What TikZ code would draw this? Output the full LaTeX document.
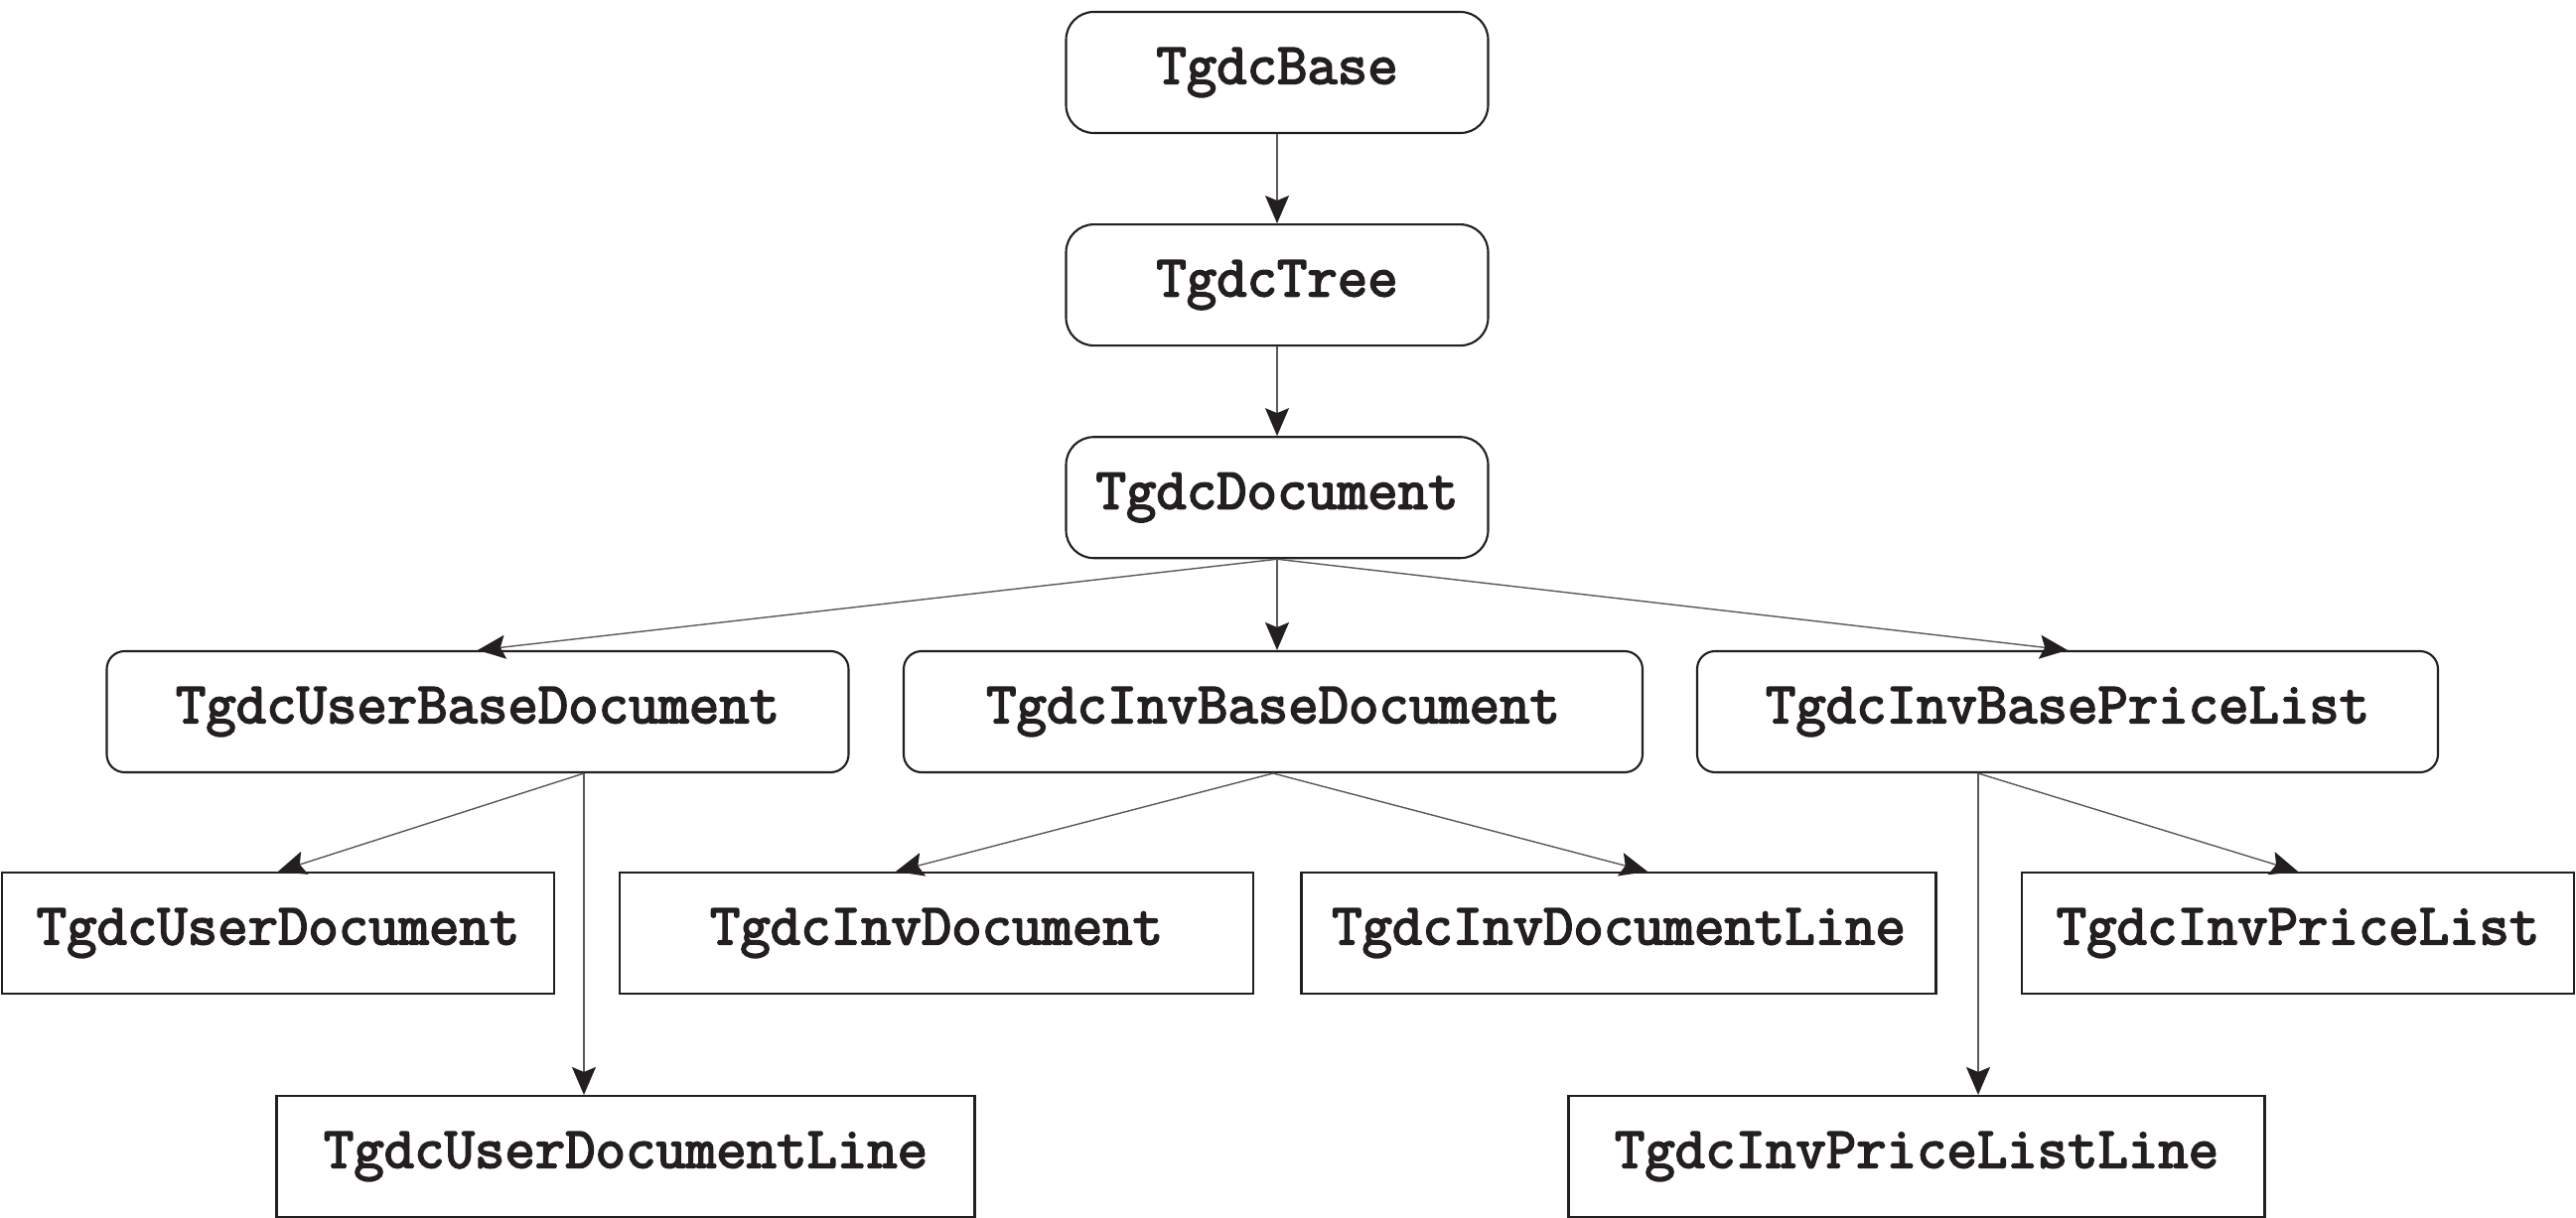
\documentclass[tikz,border=0pt]{standalone}
\usepackage{fontspec}
\newfontfamily\clsfont{Latin Modern Mono}[FakeBold=3]
\usepackage{tikz}
\usetikzlibrary{arrows.meta, positioning}

\definecolor{ink}{RGB}{35,31,32}

\begin{document}
\begin{tikzpicture}[
    node distance=9.0mm and 12mm,
    font=\clsfont\fontsize{16.8}{19}\selectfont,
    every node/.style={text=ink, inner sep=0pt},
    cls/.style={rectangle, draw=ink, line width=0.6pt, minimum height=12.2mm},
    base/.style={cls, rounded corners=2.8mm, minimum width=42.5mm},
    abstr/.style={cls, rounded corners=1.8mm},
    leaf/.style={cls},
    link/.style={-{Stealth[length=2.8mm, width=2.4mm, inset=0.5mm, color=ink]}, draw=gray!70!black, line width=0.4pt}
]
\useasboundingbox (0,0) rectangle (25.94,-12.27);
% top of the hierarchy
\node[base] (gbase) at (12.86,-0.73) {TgdcBase};
\node[base, below=of gbase] (gtree) {TgdcTree};
\node[base, below=of gtree] (gdoc) {TgdcDocument};
% abstract documents
\node[abstr, minimum width=74.7mm] (ubdoc) at (4.81,-7.17) {TgdcUserBaseDocument};
\node[abstr, minimum width=74.4mm] (ibdoc) at (12.82,-7.17) {TgdcInvBaseDocument};
\node[abstr, minimum width=74.6mm] (ibplist) at (20.82,-7.17) {TgdcInvBasePriceList};
% concrete classes
\node[leaf, minimum width=55.6mm] (udoc) at (2.80,-9.40) {TgdcUserDocument};
\node[leaf, minimum width=63.8mm] (idoc) at (9.43,-9.40) {TgdcInvDocument};
\node[leaf, minimum width=63.9mm] (idocline) at (16.30,-9.40) {TgdcInvDocumentLine};
\node[leaf, minimum width=55.6mm] (iplist) at (23.14,-9.40) {TgdcInvPriceList};
\node[leaf, minimum width=70.3mm] (udocline) at (6.30,-11.65) {TgdcUserDocumentLine};
\node[leaf, minimum width=70.1mm] (iplline) at (19.30,-11.65) {TgdcInvPriceListLine};
\coordinate (ubfork) at ([xshift=10.7mm]ubdoc.south);
\coordinate (ipfork) at ([xshift=-9mm]ibplist.south);
\draw[link] (gbase) -- (gtree);
\draw[link] (gtree) -- (gdoc);
\draw[link] (gdoc.south) -- (ubdoc.north);
\draw[link] (gdoc.south) -- (gdoc.south |- ibdoc.north);
\draw[link] (gdoc.south) -- (ibplist.north);
\draw[link] (ubfork) -- (udoc.north);
\draw[link] (ubfork) -- (ubfork |- udocline.north);
\draw[link] (ibdoc.south) -- ([xshift=-4.1mm]idoc.north);
\draw[link] (ibdoc.south) -- ([xshift=2.9mm]idocline.north);
\draw[link] (ipfork) -- (iplist.north);
\draw[link] (ipfork) -- (ipfork |- iplline.north);
\end{tikzpicture}
\end{document}
